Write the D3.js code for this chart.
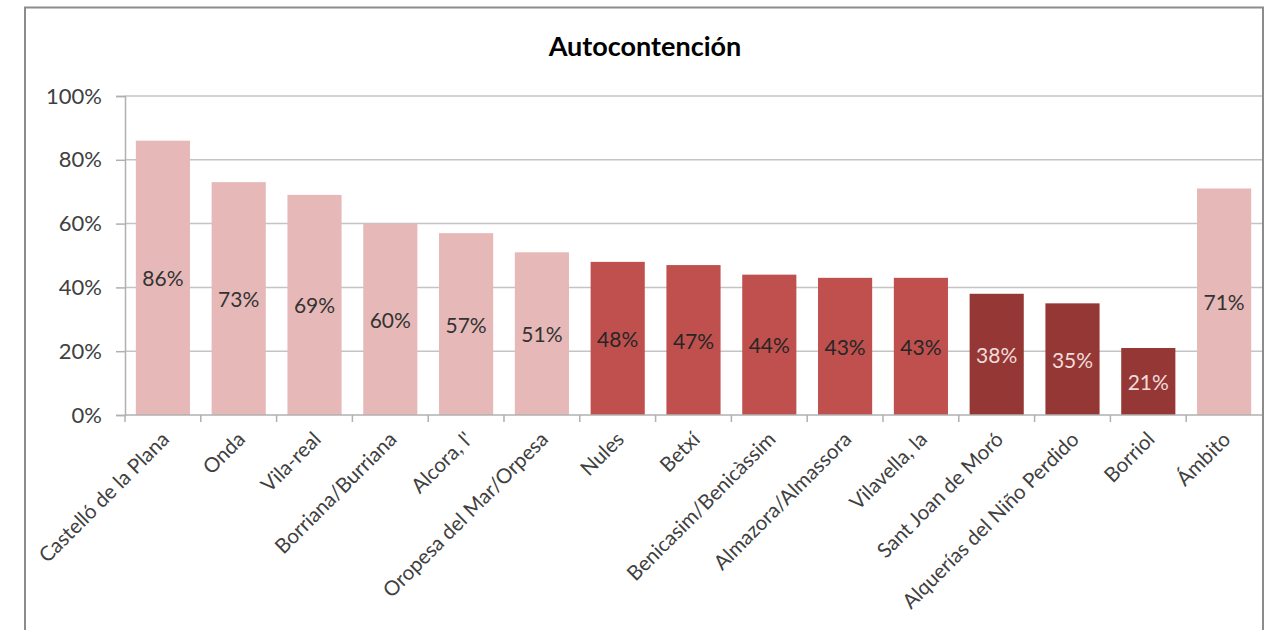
<!DOCTYPE html>
<html>
<head>
<meta charset="utf-8">
<script src="https://cdn.jsdelivr.net/npm/d3@7"></script>
<style>
  html, body { margin: 0; padding: 0; background: #ffffff; }
  svg { display: block; }
  text { font-family: Lato, "Open Sans", "Noto Sans", sans-serif; }
</style>
</head>
<body>
<svg id="chart" width="1265" height="630"></svg>
<script>
// Autocontención por municipio (porcentaje)
const categories = [
  "Castelló de la Plana", "Onda", "Vila-real", "Borriana/Burriana", "Alcora, l'",
  "Oropesa del Mar/Orpesa", "Nules", "Betxí", "Benicasim/Benicàssim",
  "Almazora/Almassora", "Vilavella, la", "Sant Joan de Moró",
  "Alquerías del Niño Perdido", "Borriol", "Ámbito"
];
const values = [86, 73, 69, 60, 57, 51, 48, 47, 44, 43, 43, 38, 35, 21, 71];
// Grupo de color de cada barra: 0 = alto, 1 = medio, 2 = bajo
const groups = [0, 0, 0, 0, 0, 0, 1, 1, 1, 1, 1, 2, 2, 2, 0];
const yTicks = [0, 20, 40, 60, 80, 100];
const title = "Autocontención";

const fillColors = ["#e6b9b8", "#c0504d", "#953735"];
const labelColors = ["#333333", "#262626", "#f2dcdb"];

const svg = d3.select("#chart");
const W = 1265, H = 630;
const plot = { left: 125, right: 1262, top: 96, bottom: 415 };

// Marco del gráfico
svg.append("rect")
  .attr("x", 25).attr("y", 7.5)
  .attr("width", 1263 - 25).attr("height", H + 10)
  .attr("fill", "#ffffff")
  .attr("stroke", "#8c8c8c").attr("stroke-width", 2);

// Título
svg.append("text")
  .attr("x", 645).attr("y", 56)
  .attr("text-anchor", "middle")
  .attr("font-size", 27).attr("font-weight", "bold")
  .attr("fill", "#000000")
  .text(title);

const x = d3.scaleBand()
  .domain(categories)
  .range([plot.left, plot.right])
  .paddingInner(0.2857)
  .paddingOuter(0.1429);

const y = d3.scaleLinear()
  .domain([0, 100])
  .range([plot.bottom, plot.top]);

// Líneas de cuadrícula
svg.append("g")
  .selectAll("line")
  .data(yTicks.filter(t => t > 0))
  .join("line")
  .attr("x1", plot.left).attr("x2", plot.right)
  .attr("y1", d => y(d)).attr("y2", d => y(d))
  .attr("stroke", "#c4c4c4").attr("stroke-width", 1.5);

// Eje Y
const yAxis = svg.append("g")
  .attr("transform", `translate(${plot.left},0)`)
  .call(d3.axisLeft(y).tickValues(yTicks).tickFormat(d => d + "%").tickSize(9).tickPadding(14));
yAxis.select(".domain").attr("stroke", "#b0b0b0").attr("stroke-width", 1.5);
yAxis.selectAll(".tick line").attr("stroke", "#b0b0b0").attr("stroke-width", 1.5);
yAxis.selectAll(".tick text")
  .attr("font-size", 22).attr("fill", "#404040")
  .attr("font-family", "Lato, 'Open Sans', sans-serif");

// Barras
svg.append("g")
  .selectAll("rect")
  .data(values)
  .join("rect")
  .attr("x", (d, i) => x(categories[i]))
  .attr("y", d => y(d))
  .attr("width", x.bandwidth())
  .attr("height", d => y(0) - y(d))
  .attr("fill", (d, i) => fillColors[groups[i]]);

// Etiquetas de valor
svg.append("g")
  .selectAll("text")
  .data(values)
  .join("text")
  .attr("x", (d, i) => x(categories[i]) + x.bandwidth() / 2)
  .attr("y", d => (y(d) + y(0)) / 2)
  .attr("text-anchor", "middle")
  .attr("dominant-baseline", "central")
  .attr("font-size", 21)
  .attr("fill", (d, i) => labelColors[groups[i]])
  .text(d => d + "%");

// Eje X
const step = x.step();
svg.append("line")
  .attr("x1", plot.left).attr("x2", plot.right)
  .attr("y1", plot.bottom).attr("y2", plot.bottom)
  .attr("stroke", "#b0b0b0").attr("stroke-width", 1.5);
svg.append("g")
  .selectAll("line")
  .data(d3.range(categories.length))
  .join("line")
  .attr("x1", i => plot.left + i * step).attr("x2", i => plot.left + i * step)
  .attr("y1", plot.bottom).attr("y2", plot.bottom + 7)
  .attr("stroke", "#b0b0b0").attr("stroke-width", 1.5);

svg.append("g")
  .selectAll("text")
  .data(categories)
  .join("text")
  .attr("transform", d => `translate(${x(d) + x.bandwidth() / 2 + 2},${plot.bottom + 20}) rotate(-45)`)
  .attr("text-anchor", "end")
  .attr("dominant-baseline", "central")
  .attr("font-size", 20.5)
  .attr("fill", "#404040")
  .text(d => d);
</script>
</body>
</html>
